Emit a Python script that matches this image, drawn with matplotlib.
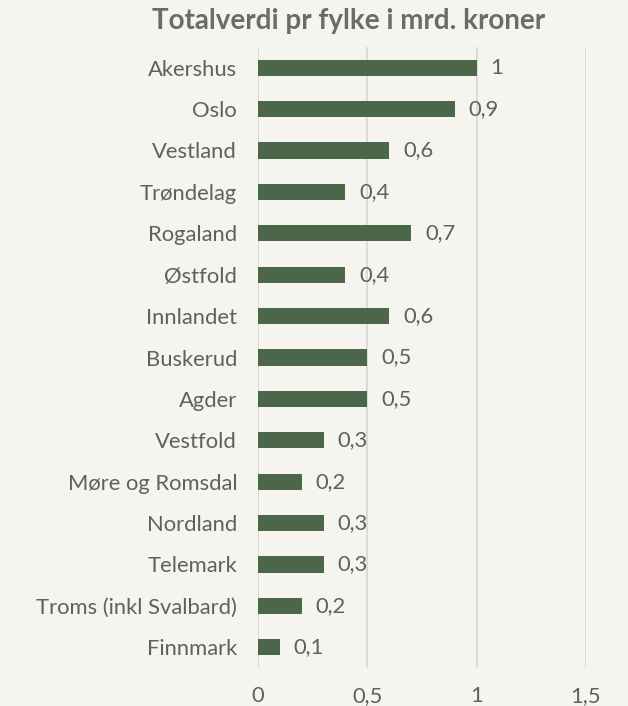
import matplotlib
matplotlib.use("Agg")
import matplotlib.pyplot as plt
from matplotlib.ticker import FuncFormatter

categories = ["Akershus", "Oslo", "Vestland", "Trøndelag", "Rogaland", "Østfold",
              "Innlandet", "Buskerud", "Agder", "Vestfold", "Møre og Romsdal",
              "Nordland", "Telemark", "Troms (inkl Svalbard)", "Finnmark"]
values = [1.0, 0.9, 0.6, 0.4, 0.7, 0.4, 0.6, 0.5, 0.5, 0.3, 0.2, 0.3, 0.3, 0.2, 0.1]
xticks = [0, 0.5, 1, 1.5]
title = "Totalverdi pr fylke i mrd. kroner"

BG = "#f5f4ee"
BAR = "#4c6649"
TXT = "#606060"
GRID = "#d9d9d9"
FS = 15.8

plt.rcParams['font.family'] = ['Lato', 'DejaVu Sans']

W, H = 628, 706
fig = plt.figure(figsize=(W / 100, H / 100), dpi=100, facecolor=BG)
ax = fig.add_axes([258 / W, 1 - 668 / H, (586 - 258) / W, (668 - 47) / H], facecolor=BG)

def fmt(v):
    s = f"{v:.1f}".rstrip("0").rstrip(".")
    return s.replace(".", ",")

ypos = list(range(len(categories)))
ax.barh(ypos, values, height=0.39, color=BAR, zorder=3)
for y, v in zip(ypos, values):
    ax.annotate(fmt(v), (v, y), xytext=(10, 0), textcoords="offset points",
                va="center", ha="left", fontsize=FS, color=TXT)

ax.set_ylim(len(categories) - 0.5, -0.5)
ax.set_xlim(0, 1.5)
ax.set_yticks(ypos)
ax.set_yticklabels(categories)
ax.set_xticks(xticks)
ax.xaxis.set_major_formatter(FuncFormatter(lambda v, p: fmt(v)))
ax.tick_params(axis="y", length=0, pad=15, labelsize=FS, labelcolor=TXT)
ax.tick_params(axis="x", length=0, pad=13, labelsize=FS, labelcolor=TXT)
ax.grid(axis="x", color=GRID, linewidth=1.3, zorder=0)
for s in ax.spines.values():
    s.set_visible(False)

fig.text(349 / W, 1 - 21 / H, title, ha="center", va="center",
         fontsize=20, fontweight="bold", color="#6b6b6b")

fig.savefig("out.png", dpi=100, facecolor=BG)
